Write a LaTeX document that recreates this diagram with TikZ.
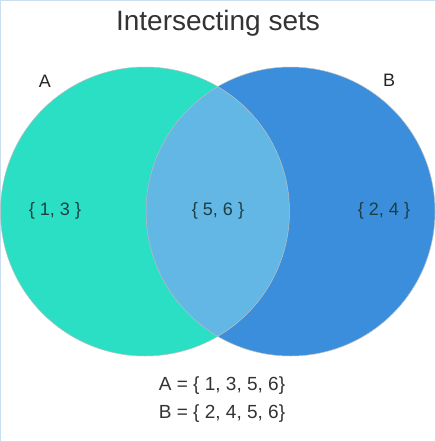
\documentclass[tikz,border=0pt]{standalone}
\usepackage{fontspec}
\setmainfont{Liberation Sans}
\definecolor{setA}{HTML}{2ADFC4}
\definecolor{setB}{HTML}{3A8EDB}
\definecolor{setAB}{HTML}{63B7E4}
\definecolor{lbl}{HTML}{1E3E44}
\definecolor{frame}{HTML}{C9DFEF}
\begin{document}
\begin{tikzpicture}[x=1pt,y=-1pt,
  lab/.style={inner sep=0pt, text=lbl, font=\fontsize{18}{20}\selectfont},
  head/.style={inner sep=0pt, text=black!85, font=\fontsize{18}{20}\selectfont},
  eq/.style={inner sep=0pt, text=black!80, font=\fontsize{19}{21}\selectfont}]
\useasboundingbox (0,0) rectangle (436,442);
\fill[white] (0,0) rectangle (436,442);
\draw[frame, line width=1.2pt] (0.6,0.6) rectangle (435.4,441.4);
% circles
\fill[setA] (145,211.5) circle (144.5);
\fill[setB] (290.5,211.5) circle (144.5);
\begin{scope}
  \clip (145,211.5) circle (144.5);
  \fill[setAB] (290.5,211.5) circle (144.5);
\end{scope}
\draw[black!25, line width=0.5pt] (145,211.5) circle (144.5);
\draw[black!25, line width=0.5pt] (290.5,211.5) circle (144.5);
% texts
\node[inner sep=0pt, text=black!80, font=\fontsize{28}{32}\selectfont] (title) at (218,23) {Intersecting sets};
\node[head] (la) at (45,81) {A};
\node[head] (lb) at (389,80) {B};
\node[lab] (sa) at (55,211) {\{ 1, 3 \}};
\node[lab] (sab) at (218,211) {\{ 5, 6 \}};
\node[lab] (sb) at (384,211) {\{ 2, 4 \}};
\node[eq] (ea) at (222,386) {A = \{ 1, 3, 5, 6\}};
\node[eq] (eb) at (222,414) {B = \{ 2, 4, 5, 6\}};
\end{tikzpicture}
\end{document}
